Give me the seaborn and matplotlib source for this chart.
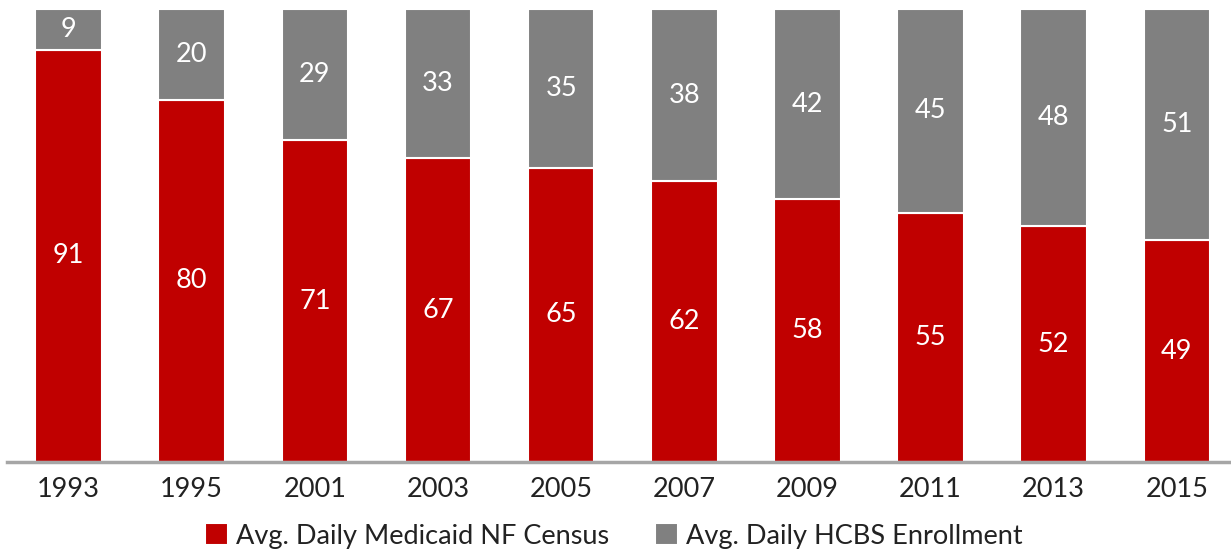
import pandas as pd
import seaborn as sns
import matplotlib.pyplot as plt

years = ['1993', '1995', '2001', '2003', '2005', '2007', '2009', '2011', '2013', '2015']
nf_census = [91, 80, 71, 67, 65, 62, 58, 55, 52, 49]
hcbs_enrollment = [9, 20, 29, 33, 35, 38, 42, 45, 48, 51]

data = pd.DataFrame({'Year': years, 'NF': nf_census, 'HCBS': hcbs_enrollment})

sns.set_style('white')
plt.rcParams['font.family'] = ['Lato', 'DejaVu Sans']

red = '#C00000'
gray = '#808080'

fig = plt.figure(figsize=(12.31, 5.55), dpi=100)
ax = fig.add_axes([7 / 1231, 93 / 555, 1 - 7 / 1231 + 0.006, 453 / 555])

sns.barplot(data=data, x='Year', y='NF', color=red, saturation=1, width=0.54, ax=ax,
            edgecolor='white', linewidth=1.5, label='Avg. Daily Medicaid NF Census')
sns.barplot(data=data, x='Year', y='HCBS', bottom=data['NF'], color=gray, saturation=1,
            width=0.54, ax=ax, edgecolor='white', linewidth=1.5,
            label='Avg. Daily HCBS Enrollment')

for container in ax.containers:
    ax.bar_label(container, label_type='center', color='white', fontsize=19.5)

ax.set_ylim(0, 100)
ax.set_xlim(-0.5, 9.5)
ax.set_xlabel('')
ax.set_ylabel('')
ax.set_yticks([])
ax.tick_params(axis='x', labelsize=19.5, colors='#222222', length=0, pad=11)
for s in ['top', 'right', 'left']:
    ax.spines[s].set_visible(False)
ax.spines['bottom'].set_color('#A6A6A6')
ax.spines['bottom'].set_linewidth(2.5)

leg = ax.legend(loc='center', bbox_to_anchor=(614 / 1231, 19 / 555), bbox_transform=fig.transFigure,
                ncol=2, frameon=False, fontsize=19.5, handlelength=0.85, handleheight=0.85,
                handletextpad=0.3, columnspacing=1.7, labelcolor='#222222')

fig.savefig('out.png', dpi=100)
